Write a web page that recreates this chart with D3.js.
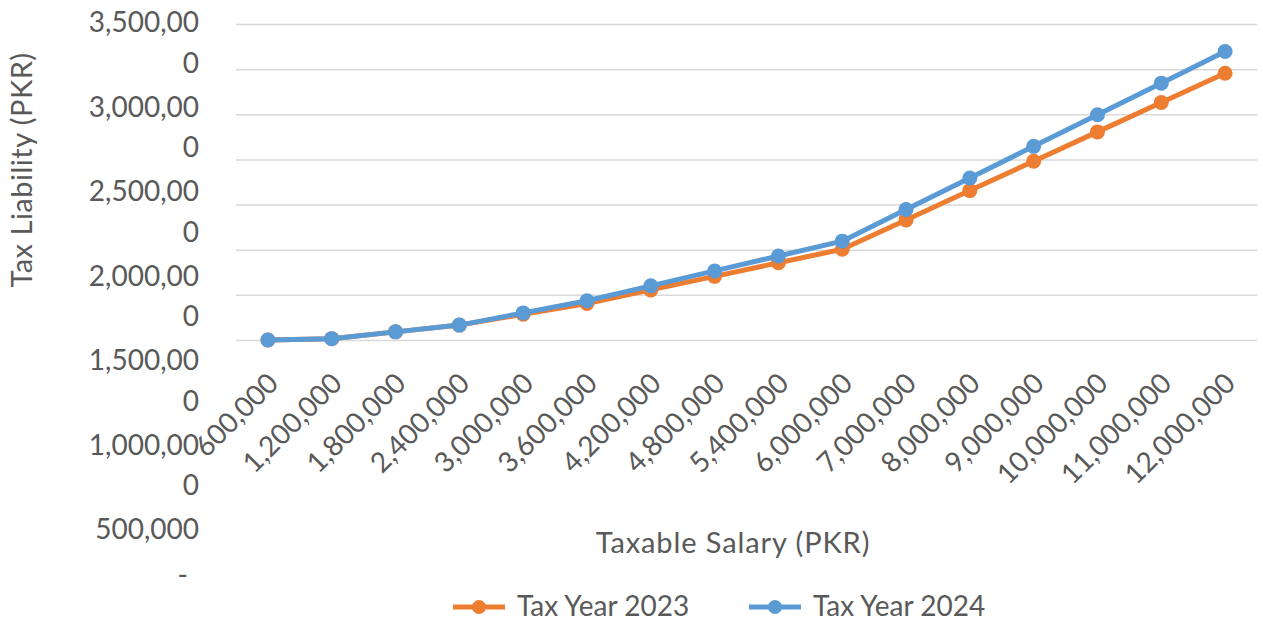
<!DOCTYPE html>
<html>
<head>
<meta charset="utf-8">
<script src="https://cdn.jsdelivr.net/npm/d3@7"></script>
<style>
  html, body { margin: 0; padding: 0; background: #fff; }
  svg text { font-family: Lato, "Open Sans", sans-serif; fill: #595959; }
</style>
</head>
<body>
<svg id="chart" width="1263" height="621"></svg>
<script>
// ---- data ----
const categories = ["600,000","1,200,000","1,800,000","2,400,000","3,000,000","3,600,000",
  "4,200,000","4,800,000","5,400,000","6,000,000","7,000,000","8,000,000","9,000,000",
  "10,000,000","11,000,000","12,000,000"];
const taxYear2023 = [0, 15000, 90000, 165000, 285000, 405000, 555000, 705000, 855000,
  1005000, 1330000, 1655000, 1980000, 2305000, 2630000, 2955000];
const taxYear2024 = [0, 15000, 90000, 165000, 300000, 435000, 600000, 765000, 930000,
  1095000, 1445000, 1795000, 2145000, 2495000, 2845000, 3195000];
const yTickValues = [0, 500000, 1000000, 1500000, 2000000, 2500000, 3000000, 3500000];
const yTickLabels = ["-", "500,000", "1,000,000", "1,500,000", "2,000,000", "2,500,000", "3,000,000", "3,500,000"];
const seriesNames = ["Tax Year 2023", "Tax Year 2024"];
const seriesColors = ["#ED7D31", "#5B9BD5"];
const xTitle = "Taxable Salary (PKR)";
const yTitle = "Tax Liability (PKR)";

// ---- layout ----
const svg = d3.select("#chart");
const plotLeft = 236, plotRight = 1257, plotTop = 24, plotBottom = 340;

const x = d3.scaleBand().domain(categories).range([plotLeft, plotRight]).padding(0);
const cx = c => x(c) + x.bandwidth() / 2;
const y = d3.scaleLinear().domain([0, 3500000]).range([plotBottom, plotTop]);

// gridlines
const grid = svg.append("g").attr("transform", `translate(${plotLeft},0)`)
  .call(d3.axisLeft(y).tickValues(yTickValues).tickSize(-(plotRight - plotLeft)).tickFormat(""));
grid.select(".domain").remove();
grid.selectAll(".tick line").attr("stroke", "#D9D9D9").attr("stroke-width", 1.5);

// y tick labels (wrapped, stacked as in the source)
const labelsTopDown = yTickLabels.slice().reverse();
let cursor = 22.5;
const yl = svg.append("g");
labelsTopDown.forEach((lab, i) => {
  if (lab === "-") {
    yl.append("text").attr("x", 188).attr("y", cursor + 2).attr("dy", "0.35em")
      .attr("text-anchor", "end").attr("font-size", 28).text(lab);
    return;
  }
  const lines = lab.length > 8 ? [lab.slice(0, 8), lab.slice(8)] : [lab];
  lines.forEach((ln, j) => {
    yl.append("text").attr("x", 199).attr("y", cursor + j * 40.5).attr("dy", "0.35em")
      .attr("text-anchor", "end").attr("font-size", 28).text(ln);
  });
  cursor += lines.length === 2 ? 84.5 : 44;
});

// x tick labels rotated
const xl = svg.append("g");
categories.forEach(c => {
  xl.append("text")
    .attr("transform", `translate(${cx(c) + 12},${385}) rotate(-45)`)
    .attr("text-anchor", "end").attr("font-size", 28).text(c);
});

// titles
svg.append("text").attr("x", 733).attr("y", 553).attr("text-anchor", "middle")
  .attr("font-size", 29).attr("letter-spacing", 0.9).text(xTitle);
svg.append("text").attr("transform", "translate(32,170) rotate(-90)")
  .attr("text-anchor", "middle").attr("font-size", 29).attr("letter-spacing", 0.5).text(yTitle);

// series
const series = [taxYear2023, taxYear2024];
const line = d3.line().x((d, i) => cx(categories[i])).y(d => y(d));
series.forEach((vals, si) => {
  const g = svg.append("g");
  g.append("path").datum(vals).attr("d", line).attr("fill", "none")
    .attr("stroke", seriesColors[si]).attr("stroke-width", 5).attr("stroke-linejoin", "round");
  g.selectAll("circle").data(vals).join("circle")
    .attr("cx", (d, i) => cx(categories[i])).attr("cy", d => y(d)).attr("r", 7.5)
    .attr("fill", seriesColors[si]);
});

// legend
const legendX = [453, 749];
seriesNames.forEach((name, i) => {
  const g = svg.append("g").attr("transform", `translate(${legendX[i]},607)`);
  g.append("line").attr("x1", 0).attr("x2", 52).attr("y1", 0).attr("y2", 0)
    .attr("stroke", seriesColors[i]).attr("stroke-width", 5);
  g.append("circle").attr("cx", 26).attr("cy", 0).attr("r", 7).attr("fill", seriesColors[i]);
  g.append("text").attr("x", 64).attr("y", 9).attr("font-size", 28).text(name);
});
</script>
</body>
</html>
